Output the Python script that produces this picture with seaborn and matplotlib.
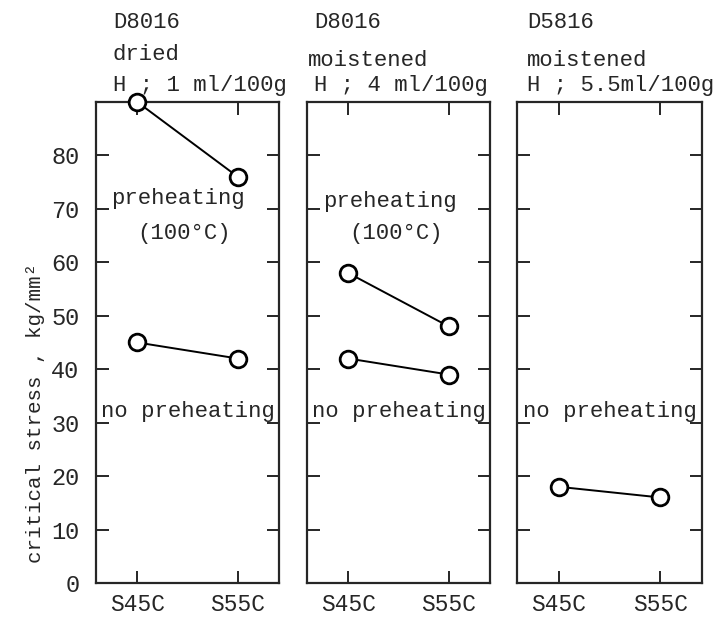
import pandas as pd
import seaborn as sns
import matplotlib.pyplot as plt

# steels on the x axis
steels = ["S45C", "S55C"]

# panel headings (electrode, condition, hydrogen)
electrodes = ["D8016", "D8016", "D5816"]
conditions = ["dried", "moistened", "moistened"]
hydrogen = ["H ; 1 ml/100g", "H ; 4 ml/100g", "H ; 5.5ml/100g"]

# critical stress, kg/mm2 (None = no series in that panel)
preheat = [[90, 76], [58, 48], None]
no_preheat = [[45, 42], [42, 39], [18, 16]]

yticks = [0, 10, 20, 30, 40, 50, 60, 70, 80]

sns.set_style("ticks")
plt.rcParams["font.family"] = ["Liberation Mono", "DejaVu Sans Mono"]
plt.rcParams["axes.linewidth"] = 1.6

fig = plt.figure(figsize=(7.15, 6.21), dpi=100)

# axes placement in pixels (left, width) and heading x / condition y
lefts = [96, 307, 517]
widths = [183, 183, 185]
head_x = [113, 314, 527]
cond_x = [113, 308, 527]
cond_y = [55, 60, 60]
pre_x = [(0.40, 0.47), (0.41, 0.48), None]
pre_y = [(72, 65.3), (71.3, 65.3), None]

for i in range(3):
    ax = fig.add_axes([lefts[i] / 715, 0.0612, widths[i] / 715, 0.7746])
    for series in [preheat[i], no_preheat[i]]:
        if series is None:
            continue
        df = pd.DataFrame({"steel": [0, 1], "stress": series})
        sns.lineplot(data=df, x="steel", y="stress", ax=ax, color="black",
                     linewidth=1.4, marker="o", markersize=12,
                     markerfacecolor="white", markeredgecolor="black",
                     markeredgewidth=2, clip_on=False, zorder=5)
    ax.set_xlim(-0.41, 1.41)
    ax.set_ylim(0, 90)
    ax.set_xticks([0, 1])
    ax.set_xticklabels(steels, fontsize=16.5)
    ax.set_yticks(yticks)
    ax.tick_params(axis="both", direction="in", length=9, width=1.4,
                   top=True, right=True, pad=12)
    ax.tick_params(axis="x", pad=7)
    ax.set_xlabel("")
    if i == 0:
        ax.set_yticklabels(yticks, fontsize=17)
        ax.set_ylabel("critical stress , kg/mm²", fontsize=15)
        ax.yaxis.set_label_coords(-0.28, 0.353)
    else:
        ax.set_yticklabels([])
        ax.set_ylabel("")

    ax.text(0.5, 32, "no preheating", ha="center", va="center", fontsize=16)
    if preheat[i] is not None:
        ax.text(pre_x[i][0], pre_y[i][0], "preheating", ha="center",
                va="center", fontsize=16)
        ax.text(pre_x[i][1], pre_y[i][1], "(100°C)", ha="center",
                va="center", fontsize=16)

    # headings above each panel
    fig.text(head_x[i] / 715, 1 - 22 / 621, electrodes[i], fontsize=16,
             ha="left", va="center")
    fig.text(cond_x[i] / 715, 1 - cond_y[i] / 621, conditions[i], fontsize=16,
             ha="left", va="center")
    fig.text(head_x[i] / 715, 1 - 86 / 621, hydrogen[i], fontsize=16,
             ha="left", va="center")

plt.savefig("out.png", dpi=100)
